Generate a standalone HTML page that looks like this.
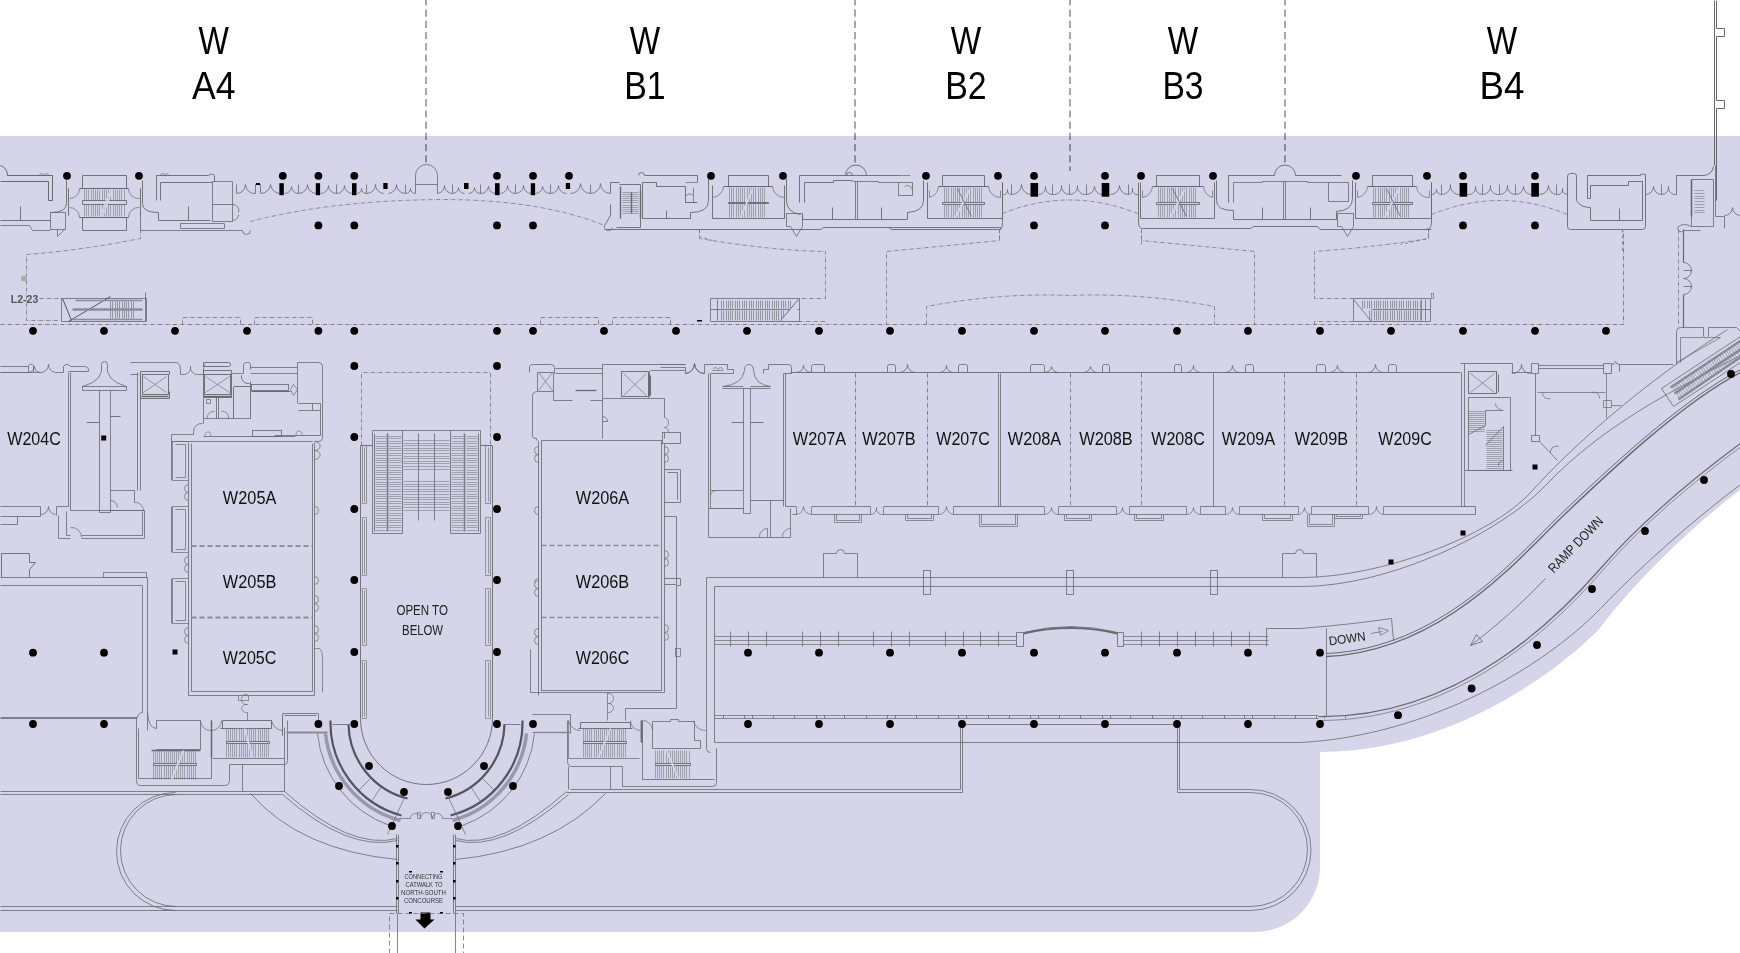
<!DOCTYPE html>
<html><head><meta charset="utf-8"><style>html,body{margin:0;padding:0;background:#fff;overflow:hidden}</style></head>
<body>
<svg width="1740" height="953" viewBox="0 0 1740 953" style="display:block;will-change:transform">
<rect width="1740" height="953" fill="#fff"/>
<path d="M0,136 H1740 V490 C1700,520 1640,575 1600,628 C1570,660 1460,752 1320,752 V867 A65,65 0 0 1 1255,932 H0 Z" fill="#d6d4e9"/>
<g stroke-linecap="butt" stroke-linejoin="miter" transform="translate(0.5,0.5)">
<path d="M1714,0 V165" stroke="#68686f" stroke-width="1.0" fill="none" />
<path d="M1716,0 V28 H1724 V36 H1716 V100 H1724 V108 H1716 V200" stroke="#68686f" stroke-width="1.0" fill="none" />
<path d="M0,165 A10,10 0 0 1 7,175" stroke="#68686f" stroke-width="1.0" fill="none" />
<path d="M7,175 H52 V200 H48 V181 H0" stroke="#68686f" stroke-width="1.0" fill="none" />
<path d="M39,175 a2,2 0 1 1 4,0 M44,175 a2,2 0 1 1 4,0" stroke="#68686f" stroke-width="0.6" fill="none" />
<path d="M0,220 H50 M20,206 V220" stroke="#68686f" stroke-width="0.9" fill="none" />
<path d="M0,225 H29 L32,230 H50 M50,212 H65 V229 H50 Z" stroke="#68686f" stroke-width="0.8" fill="none" />
<path d="M57,229 V236 L64,229" stroke="#68686f" stroke-width="0.8" fill="none" />
<path d="M66,180 V203 Q66,212 50,212" stroke="#68686f" stroke-width="0.9" fill="none" />
<path d="M68,188 V215 M68,188 V215" stroke="#68686f" stroke-width="0.7" fill="none" />
<path d="M82,188 V175 H126 V188 M82,217 V230 H126 V217" stroke="#68686f" stroke-width="0.9" fill="none" />
<path d="M79,188 H128 M79,217 H128" stroke="#68686f" stroke-width="1.1" fill="none" />
<path d="M79,188 A10,10 0 0 1 69,198 M79,217 A10,10 0 0 0 69,207" stroke="#68686f" stroke-width="0.7" fill="none" />
<path d="M128,188 A10,10 0 0 0 139,198 M128,217 A10,10 0 0 1 139,207" stroke="#68686f" stroke-width="0.7" fill="none" />
<path d="M84,189 V216 M86,189 V216 M88,189 V216 M91,189 V216 M93,189 V216 M95,189 V216 M97,189 V216 M99,189 V216 M102,189 V216 M104,189 V216 M106,189 V216 M108,189 V216 M110,189 V216 M113,189 V216 M115,189 V216 M117,189 V216 M119,189 V216 M121,189 V216 M124,189 V216 " stroke="#68686f" stroke-width="0.5" fill="none" />
<path d="M82,200 H126 V204 H82 Z" stroke="#68686f" stroke-width="0.9" fill="#d6d4e9" />
<path d="M100,216 L110,189 M102,216 L112,189" stroke="#d6d4e9" stroke-width="1.5" fill="none" />
<path d="M142,180 V203 Q142,212 158,212" stroke="#68686f" stroke-width="0.9" fill="none" />
<path d="M140,188 V215 M140,188 V215" stroke="#68686f" stroke-width="0.7" fill="none" />
<path d="M140,212 V230" stroke="#68686f" stroke-width="0.8" fill="none" />
<path d="M156,200 V175 H208 A4,4 0 0 1 214,175 V181" stroke="#68686f" stroke-width="0.9" fill="none" />
<path d="M160,200 V182 H212" stroke="#68686f" stroke-width="0.9" fill="none" />
<path d="M160,175 a2,2 0 1 1 4,0 M164,175 a2,2 0 1 1 4,0" stroke="#68686f" stroke-width="0.6" fill="none" />
<path d="M158,212 V220 H210 M188,206 V220" stroke="#68686f" stroke-width="0.9" fill="none" />
<path d="M212,181 H232 V221 H212 Z M212,204 H232 M232,204 A6,6 0 0 1 238,212 M232,220 A6,6 0 0 0 238,214" stroke="#68686f" stroke-width="0.8" fill="none" />
<path d="M180,223 H224 V228 H180 Z" stroke="#68686f" stroke-width="0.8" fill="none" />
<path d="M140,230 H242 a4,4 0 1 0 8,0" stroke="#68686f" stroke-width="0.8" fill="none" />
<path d="M236,184 V193" stroke="#68686f" stroke-width="0.8" fill="none" />
<path d="M236,193 A9,9 0 0 0 245,184 A9,9 0 0 0 255,193" stroke="#68686f" stroke-width="0.8" fill="none" />
<path d="M260,193 A10,10 0 0 0 270,184 A10,10 0 0 0 279,193" stroke="#68686f" stroke-width="0.8" fill="none" />
<path d="M284,193 A7,7 0 0 0 291,186 A7,7 0 0 0 298,193" stroke="#68686f" stroke-width="0.8" fill="none" />
<path d="M298,193 A9,9 0 0 0 307,184 A9,9 0 0 0 316,193" stroke="#68686f" stroke-width="0.8" fill="none" />
<path d="M320,193 A8,8 0 0 0 328,185 A8,8 0 0 0 336,193" stroke="#68686f" stroke-width="0.8" fill="none" />
<path d="M336,193 A8,8 0 0 0 344,185 A8,8 0 0 0 352,193" stroke="#68686f" stroke-width="0.8" fill="none" />
<path d="M357,193 A5,5 0 0 0 361,188 A5,5 0 0 0 366,193" stroke="#68686f" stroke-width="0.8" fill="none" />
<path d="M366,193 A9,9 0 0 0 375,184 A9,9 0 0 0 383,193" stroke="#68686f" stroke-width="0.8" fill="none" />
<path d="M388,193 A9,9 0 0 0 396,184 A9,9 0 0 0 405,193" stroke="#68686f" stroke-width="0.8" fill="none" />
<path d="M405,193 A5,5 0 0 0 410,188 A5,5 0 0 0 415,193" stroke="#68686f" stroke-width="0.8" fill="none" />
<path d="M255,184 V193" stroke="#68686f" stroke-width="0.8" fill="none" />
<path d="M260,184 V193" stroke="#68686f" stroke-width="0.8" fill="none" />
<path d="M298,184 V193" stroke="#68686f" stroke-width="0.8" fill="none" />
<path d="M336,184 V193" stroke="#68686f" stroke-width="0.8" fill="none" />
<path d="M366,184 V193" stroke="#68686f" stroke-width="0.8" fill="none" />
<path d="M405,184 V193" stroke="#68686f" stroke-width="0.8" fill="none" />
<path d="M255,184 H260" stroke="#68686f" stroke-width="1.0" fill="none" />
<path d="M415,193 V175 A11,11 0 0 1 437,175 V193 M415,184 H437" stroke="#68686f" stroke-width="0.8" fill="none" />
<path d="M437,193 A8,8 0 0 0 444,185 A8,8 0 0 0 452,193" stroke="#68686f" stroke-width="0.8" fill="none" />
<path d="M452,193 A6,6 0 0 0 458,187 A6,6 0 0 0 464,193" stroke="#68686f" stroke-width="0.8" fill="none" />
<path d="M468,193 A6,6 0 0 0 474,187 A6,6 0 0 0 480,193" stroke="#68686f" stroke-width="0.8" fill="none" />
<path d="M480,193 A8,8 0 0 0 488,186 A8,8 0 0 0 495,193" stroke="#68686f" stroke-width="0.8" fill="none" />
<path d="M500,193 A8,8 0 0 0 507,185 A8,8 0 0 0 515,193" stroke="#68686f" stroke-width="0.8" fill="none" />
<path d="M515,193 A8,8 0 0 0 523,185 A8,8 0 0 0 531,193" stroke="#68686f" stroke-width="0.8" fill="none" />
<path d="M535,193 A8,8 0 0 0 542,186 A8,8 0 0 0 550,193" stroke="#68686f" stroke-width="0.8" fill="none" />
<path d="M550,193 A8,8 0 0 0 558,185 A8,8 0 0 0 566,193" stroke="#68686f" stroke-width="0.8" fill="none" />
<path d="M570,193 A10,10 0 0 0 580,183 A10,10 0 0 0 590,193" stroke="#68686f" stroke-width="0.8" fill="none" />
<path d="M590,193 A10,10 0 0 0 600,183 A10,10 0 0 0 610,193" stroke="#68686f" stroke-width="0.8" fill="none" />
<path d="M452,184 V193" stroke="#68686f" stroke-width="0.8" fill="none" />
<path d="M480,184 V193" stroke="#68686f" stroke-width="0.8" fill="none" />
<path d="M515,184 V193" stroke="#68686f" stroke-width="0.8" fill="none" />
<path d="M550,184 V193" stroke="#68686f" stroke-width="0.8" fill="none" />
<path d="M590,184 V193" stroke="#68686f" stroke-width="0.8" fill="none" />
<path d="M610,193 V182 H619 M610,204 V215 Q606,222 604,225 M619,184 H640 V227 H616 " stroke="#68686f" stroke-width="0.9" fill="none" />
<path d="M604,225 a4,4 0 1 0 8,2" stroke="#68686f" stroke-width="0.7" fill="none" />
<path d="M620,186 V218 M640,190 V218" stroke="#68686f" stroke-width="1.4" fill="none" />
<path d="M631,192 V213" stroke="#68686f" stroke-width="1.4" fill="none" />
<path d="M622,192 H638 M622,194 H638 M622,196 H638 M622,198 H638 M622,200 H638 M622,202 H638 M622,205 H638 M622,207 H638 M622,209 H638 M622,211 H638 M622,213 H638 " stroke="#68686f" stroke-width="0.5" fill="none" />
<path d="M638,175 a3,3 0 0 1 6,0 H697 V182" stroke="#68686f" stroke-width="0.9" fill="none" />
<path d="M642,218 V182 H656 V186 H685 V202 H697 M642,218 H690 V212" stroke="#68686f" stroke-width="0.9" fill="none" />
<path d="M666,210 V218" stroke="#68686f" stroke-width="0.9" fill="none" />
<path d="M685,182 H697 M685,196 a5,5 0 0 1 8,-1 M685,202 h10 M693,187 V202" stroke="#68686f" stroke-width="0.7" fill="none" />
<path d="M690,212 Q708,212 708,200 V178" stroke="#68686f" stroke-width="0.9" fill="none" />
<path d="M728,186 V175 H768 V186" stroke="#68686f" stroke-width="0.9" fill="none" />
<path d="M723,186 H772" stroke="#68686f" stroke-width="1.1" fill="none" />
<path d="M723,186 A12,12 0 0 1 712,197 M772,186 A12,12 0 0 0 784,197" stroke="#68686f" stroke-width="0.7" fill="none" />
<path d="M712,185 V218 H784 V185" stroke="#68686f" stroke-width="0.9" fill="none" />
<path d="M729,187 V217 M731,187 V217 M733,187 V217 M736,187 V217 M738,187 V217 M740,187 V217 M742,187 V217 M744,187 V217 M747,187 V217 M749,187 V217 M751,187 V217 M753,187 V217 M755,187 V217 M758,187 V217 M760,187 V217 M762,187 V217 M764,187 V217 " stroke="#68686f" stroke-width="0.5" fill="none" />
<path d="M728,202 H768 V203 H728 Z" stroke="#68686f" stroke-width="0.9" fill="#d6d4e9" />
<path d="M740,217 L752,189" stroke="#d6d4e9" stroke-width="1.8" fill="none" />
<path d="M786,178 V200 Q786,212 800,214" stroke="#68686f" stroke-width="0.9" fill="none" />
<path d="M786,213 H802 V226 L796,236 L790,226 H786 Z" stroke="#68686f" stroke-width="0.8" fill="none" />
<path d="M604,229 H820 L823,227 H1000" stroke="#68686f" stroke-width="0.9" fill="none" />
<path d="M799,202 V175 H846 a3,3 0 0 1 6,0" stroke="#68686f" stroke-width="0.9" fill="none" />
<path d="M804,202 V182 H833 V180 H852" stroke="#68686f" stroke-width="0.9" fill="none" />
<path d="M802,219 H852 M832,207 V219" stroke="#68686f" stroke-width="0.9" fill="none" />
<path d="M802,214 V219" stroke="#68686f" stroke-width="0.9" fill="none" />
<path d="M942,186 V175 H984 V186" stroke="#68686f" stroke-width="0.9" fill="none" />
<path d="M938,186 H988" stroke="#68686f" stroke-width="1.1" fill="none" />
<path d="M938,186 A12,12 0 0 1 929,197 M988,186 A12,12 0 0 0 1000,197" stroke="#68686f" stroke-width="0.7" fill="none" />
<path d="M927,182 V218 H1002 V182" stroke="#68686f" stroke-width="0.9" fill="none" />
<path d="M929,190 V197 M1000,190 V197" stroke="#68686f" stroke-width="0.7" fill="none" />
<path d="M944,187 V217 M946,187 V217 M948,187 V217 M951,187 V217 M953,187 V217 M955,187 V217 M957,187 V217 M959,187 V217 M962,187 V217 M964,187 V217 M966,187 V217 M968,187 V217 M970,187 V217 M973,187 V217 M975,187 V217 M977,187 V217 M979,187 V217 M981,187 V217 " stroke="#68686f" stroke-width="0.5" fill="none" />
<path d="M942,202 H984 V204 H942 Z" stroke="#68686f" stroke-width="0.9" fill="#d6d4e9" />
<path d="M955,217 L969,189" stroke="#d6d4e9" stroke-width="1.8" fill="none" />
<path d="M957,188 L971,216" stroke="#68686f" stroke-width="0.8" fill="none" />
<path d="M1156,186 V175 H1199 V186" stroke="#68686f" stroke-width="0.9" fill="none" />
<path d="M1152,186 H1203" stroke="#68686f" stroke-width="1.1" fill="none" />
<path d="M1152,186 A12,12 0 0 1 1142,197 M1203,186 A12,12 0 0 0 1212,197" stroke="#68686f" stroke-width="0.7" fill="none" />
<path d="M1140,182 V218 H1214 V182" stroke="#68686f" stroke-width="0.9" fill="none" />
<path d="M1142,190 V197 M1212,190 V197" stroke="#68686f" stroke-width="0.7" fill="none" />
<path d="M1158,187 V217 M1160,187 V217 M1162,187 V217 M1164,187 V217 M1167,187 V217 M1169,187 V217 M1171,187 V217 M1173,187 V217 M1175,187 V217 M1178,187 V217 M1180,187 V217 M1182,187 V217 M1184,187 V217 M1186,187 V217 M1189,187 V217 M1191,187 V217 M1193,187 V217 M1195,187 V217 " stroke="#68686f" stroke-width="0.5" fill="none" />
<path d="M1156,202 H1199 V204 H1156 Z" stroke="#68686f" stroke-width="0.9" fill="#d6d4e9" />
<path d="M1170,217 L1184,189" stroke="#d6d4e9" stroke-width="1.8" fill="none" />
<path d="M1172,188 L1186,216" stroke="#68686f" stroke-width="0.8" fill="none" />
<path d="M1372,186 V175 H1412 V186" stroke="#68686f" stroke-width="0.9" fill="none" />
<path d="M1367,186 H1416" stroke="#68686f" stroke-width="1.1" fill="none" />
<path d="M1367,186 A12,12 0 0 1 1357,197 M1416,186 A12,12 0 0 0 1429,197" stroke="#68686f" stroke-width="0.7" fill="none" />
<path d="M1355,182 V218 H1431 V182" stroke="#68686f" stroke-width="0.9" fill="none" />
<path d="M1357,190 V197 M1429,190 V197" stroke="#68686f" stroke-width="0.7" fill="none" />
<path d="M1373,187 V217 M1375,187 V217 M1378,187 V217 M1380,187 V217 M1382,187 V217 M1384,187 V217 M1386,187 V217 M1389,187 V217 M1391,187 V217 M1393,187 V217 M1395,187 V217 M1397,187 V217 M1400,187 V217 M1402,187 V217 M1404,187 V217 M1406,187 V217 M1408,187 V217 " stroke="#68686f" stroke-width="0.5" fill="none" />
<path d="M1372,202 H1412 V204 H1372 Z" stroke="#68686f" stroke-width="0.9" fill="#d6d4e9" />
<path d="M1384,217 L1398,189" stroke="#d6d4e9" stroke-width="1.8" fill="none" />
<path d="M1386,188 L1400,216" stroke="#68686f" stroke-width="0.8" fill="none" />
<path d="M845,175 A10,10 0 0 1 866,175 M845,175 H900" stroke="#68686f" stroke-width="0.9" fill="none" />
<path d="M852,181 H878 V182 H898 V195 H912 V182 H898 M855,181 V219 M857,181 V219" stroke="#68686f" stroke-width="0.8" fill="none" />
<path d="M900,175 h10 M904,186 a5,5 0 0 1 8,4" stroke="#68686f" stroke-width="0.7" fill="none" />
<path d="M852,219 H907 V212 Q923,211 923,200 V180 M881,207 V219" stroke="#68686f" stroke-width="0.9" fill="none" />
<path d="M1000,227 V229 M888,227 L891,229 H999 Q1002,229 1002,222 V182" stroke="#68686f" stroke-width="0.9" fill="none" />
<path d="M1002,194 A4,4 0 0 0 1007,189 A4,4 0 0 0 1011,194" stroke="#68686f" stroke-width="0.8" fill="none" />
<path d="M1011,194 A10,10 0 0 0 1021,184 A10,10 0 0 0 1030,194" stroke="#68686f" stroke-width="0.8" fill="none" />
<path d="M1038,194 A7,7 0 0 0 1045,186 A7,7 0 0 0 1052,194" stroke="#68686f" stroke-width="0.8" fill="none" />
<path d="M1052,194 A8,8 0 0 0 1061,185 A8,8 0 0 0 1069,194" stroke="#68686f" stroke-width="0.8" fill="none" />
<path d="M1069,194 A8,8 0 0 0 1077,185 A8,8 0 0 0 1086,194" stroke="#68686f" stroke-width="0.8" fill="none" />
<path d="M1086,194 A8,8 0 0 0 1094,186 A8,8 0 0 0 1102,194" stroke="#68686f" stroke-width="0.8" fill="none" />
<path d="M1110,194 A9,9 0 0 0 1119,185 A9,9 0 0 0 1128,194" stroke="#68686f" stroke-width="0.8" fill="none" />
<path d="M1128,194 A5,5 0 0 0 1132,188 A5,5 0 0 0 1138,194" stroke="#68686f" stroke-width="0.8" fill="none" />
<path d="M1011,184 V194" stroke="#68686f" stroke-width="0.8" fill="none" />
<path d="M1052,184 V194" stroke="#68686f" stroke-width="0.8" fill="none" />
<path d="M1069,184 V194" stroke="#68686f" stroke-width="0.8" fill="none" />
<path d="M1086,184 V194" stroke="#68686f" stroke-width="0.8" fill="none" />
<path d="M1128,184 V194" stroke="#68686f" stroke-width="0.8" fill="none" />
<path d="M1138,182 V222 Q1138,228 1142,228 H1250 L1253,226 H1317 L1320,229 H1431" stroke="#68686f" stroke-width="0.9" fill="none" />
<path d="M1216,180 V200 Q1216,210 1233,210 V219" stroke="#68686f" stroke-width="0.9" fill="none" />
<path d="M1228,202 V175 H1274 A10,10 0 0 1 1295,175 H1341" stroke="#68686f" stroke-width="0.9" fill="none" />
<path d="M1233,202 V182 H1262 V181 H1307 V182 H1328 V201 H1348 V182 H1328" stroke="#68686f" stroke-width="0.8" fill="none" />
<path d="M1283,181 V219 M1285,181 V219" stroke="#68686f" stroke-width="0.8" fill="none" />
<path d="M1233,219 H1336 V211 Q1352,210 1352,198 V180 M1262,207 V219 M1310,207 V219" stroke="#68686f" stroke-width="0.9" fill="none" />
<path d="M1337,213 H1353 V226 L1347,236 L1341,226 H1337 Z" stroke="#68686f" stroke-width="0.8" fill="none" />
<path d="M1431,194 A5,5 0 0 0 1436,189 A5,5 0 0 0 1441,194" stroke="#68686f" stroke-width="0.8" fill="none" />
<path d="M1441,194 A9,9 0 0 0 1450,184 A9,9 0 0 0 1460,194" stroke="#68686f" stroke-width="0.8" fill="none" />
<path d="M1467,194 A7,7 0 0 0 1475,186 A7,7 0 0 0 1482,194" stroke="#68686f" stroke-width="0.8" fill="none" />
<path d="M1482,194 A8,8 0 0 0 1490,185 A8,8 0 0 0 1499,194" stroke="#68686f" stroke-width="0.8" fill="none" />
<path d="M1499,194 A8,8 0 0 0 1507,185 A8,8 0 0 0 1515,194" stroke="#68686f" stroke-width="0.8" fill="none" />
<path d="M1515,194 A8,8 0 0 0 1523,186 A8,8 0 0 0 1531,194" stroke="#68686f" stroke-width="0.8" fill="none" />
<path d="M1539,194 A9,9 0 0 0 1548,185 A9,9 0 0 0 1556,194" stroke="#68686f" stroke-width="0.8" fill="none" />
<path d="M1556,194 A5,5 0 0 0 1562,188 A5,5 0 0 0 1567,194" stroke="#68686f" stroke-width="0.8" fill="none" />
<path d="M1441,184 V194" stroke="#68686f" stroke-width="0.8" fill="none" />
<path d="M1482,184 V194" stroke="#68686f" stroke-width="0.8" fill="none" />
<path d="M1499,184 V194" stroke="#68686f" stroke-width="0.8" fill="none" />
<path d="M1515,184 V194" stroke="#68686f" stroke-width="0.8" fill="none" />
<path d="M1556,184 V194" stroke="#68686f" stroke-width="0.8" fill="none" />
<path d="M1431,182 V222 Q1431,229 1425,229" stroke="#68686f" stroke-width="0.9" fill="none" />
<path d="M1570,173 H1574 Q1576,173 1576,176 V200 Q1580,207 1590,207 V220 H1642 V181 H1628 V185 H1590 V198 H1587 V175 H1640 V174 Q1642,173 1645,174 V226 Q1645,229 1642,229 H1570 Q1567,229 1567,226 V176 Q1567,173 1570,173" stroke="#68686f" stroke-width="0.9" fill="none" />
<path d="M1619,208 V220" stroke="#68686f" stroke-width="0.9" fill="none" />
<path d="M1645,194 A8,8 0 0 0 1653,186 A8,8 0 0 0 1661,194" stroke="#68686f" stroke-width="0.8" fill="none" />
<path d="M1661,194 A7,7 0 0 0 1668,186 A7,7 0 0 0 1676,194" stroke="#68686f" stroke-width="0.8" fill="none" />
<path d="M1661,184 V194" stroke="#68686f" stroke-width="0.8" fill="none" />
<path d="M1676,194 V175 H1703 A10,10 0 0 0 1713,166" stroke="#68686f" stroke-width="0.9" fill="none" />
<path d="M1691,179 H1713 V226 H1691 Z" stroke="#68686f" stroke-width="0.8" fill="none" />
<path d="M1691,179 V216" stroke="#68686f" stroke-width="1.6" fill="none" />
<path d="M1694,190 H1704 M1694,193 H1704 M1694,196 H1704 M1694,198 H1704 M1694,201 H1704 M1694,204 H1704 M1694,207 H1704 M1694,210 H1704 M1694,212 H1704 " stroke="#68686f" stroke-width="0.5" fill="none" />
<path d="M1715,165 V216 H1724 V228 M1691,226 Q1683,222 1678,226 a3,3 0 1 0 5,4 H1700" stroke="#68686f" stroke-width="0.8" fill="none" />
<path d="M1724,215 A8,8 0 0 0 1732,207 A8,8 0 0 0 1740,215" stroke="#68686f" stroke-width="0.8" fill="none" />
<path d="M61,298 H146 V321 H61 Z M145,292 V321" stroke="#68686f" stroke-width="0.8" fill="none" />
<path d="M68,321 L110,296 M62,298 L71,320" stroke="#333" stroke-width="0.8" fill="none" />
<path d="M75,300 H142 M72,319 H142" stroke="#8e8a9e" stroke-width="1.6" fill="none" />
<path d="M72,309 H142" stroke="#8e8a9e" stroke-width="2.6" fill="none" />
<path d="M110,301 V308 M112,301 V308 M115,301 V308 M117,301 V308 M119,301 V308 M122,301 V308 M124,301 V308 M126,301 V308 M128,301 V308 M131,301 V308 M133,301 V308 " stroke="#68686f" stroke-width="0.6" fill="none" />
<path d="M110,310 V318 M112,310 V318 M115,310 V318 M117,310 V318 M119,310 V318 M122,310 V318 M124,310 V318 M126,310 V318 M128,310 V318 M131,310 V318 M133,310 V318 " stroke="#68686f" stroke-width="0.6" fill="none" />
<path d="M710,298 H799 V321 H710 Z M710,309 H799" stroke="#68686f" stroke-width="0.8" fill="none" />
<path d="M717,299 V320" stroke="#68686f" stroke-width="0.8" fill="none" />
<path d="M721,300 V308 M723,300 V308 M726,300 V308 M728,300 V308 M730,300 V308 M732,300 V308 M735,300 V308 M737,300 V308 M739,300 V308 M742,300 V308 M744,300 V308 M746,300 V308 M749,300 V308 M751,300 V308 M753,300 V308 M756,300 V308 M758,300 V308 M760,300 V308 M762,300 V308 M765,300 V308 M767,300 V308 M769,300 V308 M772,300 V308 M774,300 V308 M776,300 V308 M778,300 V308 M781,300 V308 M783,300 V308 M785,300 V308 M788,300 V308 M790,300 V308 " stroke="#68686f" stroke-width="0.6" fill="none" />
<path d="M721,310 V320 M723,310 V320 M726,310 V320 M728,310 V320 M730,310 V320 M732,310 V320 M735,310 V320 M737,310 V320 M739,310 V320 M742,310 V320 M744,310 V320 M746,310 V320 M749,310 V320 M751,310 V320 M753,310 V320 M756,310 V320 M758,310 V320 M760,310 V320 M762,310 V320 M765,310 V320 M767,310 V320 M769,310 V320 M772,310 V320 M774,310 V320 M776,310 V320 M778,310 V320 M781,310 V320 M783,310 V320 " stroke="#68686f" stroke-width="0.6" fill="none" />
<path d="M780,320 L798,299" stroke="#68686f" stroke-width="0.8" fill="none" />
<path d="M797,300 L780,320 H797 Z" stroke="#68686f" stroke-width="0" fill="#d6d4e9" />
<path d="M780,320 L798,299" stroke="#68686f" stroke-width="0.8" fill="none" />
<path d="M1353,298 H1430 V321 H1353 Z M1371,309 H1430" stroke="#68686f" stroke-width="0.8" fill="none" />
<path d="M1362,300 V308 M1364,300 V308 M1367,300 V308 M1369,300 V308 M1371,300 V308 M1374,300 V308 M1376,300 V308 M1378,300 V308 M1380,300 V308 M1383,300 V308 M1385,300 V308 M1387,300 V308 M1390,300 V308 M1392,300 V308 M1394,300 V308 M1396,300 V308 M1399,300 V308 M1401,300 V308 M1403,300 V308 M1406,300 V308 M1408,300 V308 M1410,300 V308 M1413,300 V308 M1415,300 V308 M1417,300 V308 M1420,300 V308 " stroke="#68686f" stroke-width="0.6" fill="none" />
<path d="M1369,310 V320 M1371,310 V320 M1374,310 V320 M1376,310 V320 M1378,310 V320 M1380,310 V320 M1383,310 V320 M1385,310 V320 M1387,310 V320 M1390,310 V320 M1392,310 V320 M1394,310 V320 M1397,310 V320 M1399,310 V320 M1401,310 V320 M1404,310 V320 M1406,310 V320 M1408,310 V320 M1410,310 V320 M1413,310 V320 M1415,310 V320 M1417,310 V320 M1420,310 V320 " stroke="#68686f" stroke-width="0.6" fill="none" />
<path d="M1353,299 L1371,321" stroke="#68686f" stroke-width="0.8" fill="none" />
<path d="M1421,299 V320 M1425,299 V320" stroke="#68686f" stroke-width="0.7" fill="none" />
<rect x="1431" y="293" width="2" height="5" stroke="#68686f" stroke-width="0.6" fill="none"/>
<path d="M1683,229 V262 M1683,294 V327" stroke="#68686f" stroke-width="1.2" fill="none" />
<path d="M1683,262 A8,8 0 0 1 1691,270 A8,8 0 0 1 1683,278 A8,8 0 0 1 1691,286 A8,8 0 0 1 1683,294" stroke="#68686f" stroke-width="0.8" fill="none" />
<path d="M1683,270 H1692 M1683,286 H1692" stroke="#68686f" stroke-width="0.8" fill="none" />
<path d="M0,372 H40 M0,366 H28" stroke="#68686f" stroke-width="0.8" fill="none" />
<path d="M28,372 A6,6 0 0 0 34,366 A6,6 0 0 0 40,372" stroke="#68686f" stroke-width="0.8" fill="none" />
<path d="M40,372 A8,8 0 0 0 48,364 A8,8 0 0 0 55,372" stroke="#68686f" stroke-width="0.8" fill="none" />
<path d="M55,372 H88 V366 H28" stroke="#68686f" stroke-width="0" fill="none" />
<path d="M55,372 H63 M63,372 V366 A4,4 0 0 1 70,366 H83 A4,4 0 0 1 88,371 H68" stroke="#68686f" stroke-width="0.8" fill="none" />
<path d="M0,372 H28 M28,372 V365 A3,3 0 0 1 33,365 V372" stroke="#68686f" stroke-width="0.8" fill="none" />
<path d="M68,372 V506 H56 V515 M70,372 V510 H144 V538 H81 M58,515 V538 H70" stroke="#68686f" stroke-width="0.8" fill="none" />
<path d="M137,372 V490 M140,372 V490" stroke="#68686f" stroke-width="0.8" fill="none" />
<path d="M99,390 V512 H110 V390 M82,386 H126 V390 H82 Z" stroke="#68686f" stroke-width="0.8" fill="none" />
<path d="M82,386 Q104,380 101,364 M126,386 Q104,380 107,364 M101,364 A3,3 0 0 1 107,364" stroke="#68686f" stroke-width="0.8" fill="none" />
<path d="M86,422 H99 M110,416 H120" stroke="#68686f" stroke-width="0.9" fill="none" />
<path d="M110,490 H134 V502 M110,510 H143 M110,500 a7,7 0 0 1 7,7" stroke="#68686f" stroke-width="0.8" fill="none" />
<path d="M134,502 A8,8 0 0 1 143,510" stroke="#68686f" stroke-width="0.7" fill="none" />
<path d="M130,374 H138" stroke="#68686f" stroke-width="0.8" fill="none" />
<path d="M140,398 V371 H169 V374 M169,391 V398 H140" stroke="#68686f" stroke-width="0.9" fill="none" />
<rect x="142" y="374" width="26" height="20" stroke="#68686f" stroke-width="0.9" fill="none"/>
<path d="M143,376 L166,392 M166,376 L143,392" stroke="#68686f" stroke-width="0.6" fill="none" />
<path d="M141,396 H168" stroke="#68686f" stroke-width="1.4" fill="none" />
<path d="M130,362 H176 Q180,363 180,369 V374 H182" stroke="#68686f" stroke-width="0.8" fill="none" />
<path d="M182,374 A7,7 0 0 0 190,366 A7,7 0 0 0 197,374" stroke="#68686f" stroke-width="0.8" fill="none" />
<path d="M197,374 H203 V367 Q203,364 205,364" stroke="#68686f" stroke-width="0.8" fill="none" />
<path d="M203,362 H228 Q230,362 230,364 Q230,366 228,366 H203 Z" stroke="#68686f" stroke-width="0.9" fill="none" />
<path d="M203,397 V370 H231 V397 H203" stroke="#68686f" stroke-width="0.9" fill="none" />
<rect x="204" y="374" width="26" height="20" stroke="#68686f" stroke-width="0.9" fill="none"/>
<path d="M205,376 L229,392 M229,376 L205,392" stroke="#68686f" stroke-width="0.6" fill="none" />
<path d="M203,396 H231" stroke="#68686f" stroke-width="1.4" fill="none" />
<path d="M231,373 H243 V364 Q243,362 247,362 Q250,362 250,364 V369 M250,367 H297 M250,373 H297" stroke="#68686f" stroke-width="0.8" fill="none" />
<path d="M233,387 V418 M250,381 V418 M233,386 H250 M241,375 a7,7 0 0 0 8,8" stroke="#68686f" stroke-width="0.9" fill="none" />
<path d="M203,397 V423 M203,418 H250 M216,397 V418 M218,397 V418" stroke="#68686f" stroke-width="0.8" fill="none" />
<path d="M207,418 a6,6 0 0 1 7,-7 M228,418 a6,6 0 0 0 -7,-7 M206,399 h4 v4 h-4 z" stroke="#68686f" stroke-width="0.7" fill="none" />
<path d="M202,423 A8,8 0 0 0 193,431 V434 H171 V480 M171,506 V552 M171,578 V623" stroke="#68686f" stroke-width="0.8" fill="none" />
<rect x="251" y="384" width="37" height="6" stroke="#68686f" stroke-width="0.8" fill="none"/>
<path d="M251,391 H290" stroke="#68686f" stroke-width="1.2" fill="none" />
<path d="M290,389 L293,384 L297,389 L293,395 Z" stroke="#68686f" stroke-width="0.7" fill="none" />
<path d="M297,362 H318 Q322,362 322,366 V437 Q322,441 318,441 H314" stroke="#68686f" stroke-width="0.8" fill="none" />
<path d="M297,362 V403 M298,403 H320 V435 H274 M298,410 H320 M312,403 V410" stroke="#68686f" stroke-width="0.8" fill="none" />
<path d="M203,436 H295" stroke="#68686f" stroke-width="0.8" fill="none" />
<rect x="252" y="430" width="29" height="6" stroke="#68686f" stroke-width="0.8" fill="none"/>
<path d="M205,436 a3,3 0 1 1 5,0 M296,435 a3,3 0 1 1 5,0" stroke="#68686f" stroke-width="0.6" fill="none" />
<path d="M171,441 H312" stroke="#68686f" stroke-width="0.8" fill="none" />
<path d="M188,442 V695 H314 V442 M191,443 V691 H312 V443" stroke="#68686f" stroke-width="0.8" fill="none" />
<path d="M188,484 A4,4 0 0 0 188,492 A4,4 0 0 0 188,500" stroke="#68686f" stroke-width="0.7" fill="none" />
<path d="M188,556 A4,4 0 0 0 188,564 A4,4 0 0 0 188,572" stroke="#68686f" stroke-width="0.7" fill="none" />
<path d="M188,627 A4,4 0 0 0 188,635 A4,4 0 0 0 188,643" stroke="#68686f" stroke-width="0.7" fill="none" />
<path d="M188,441 H172 V480 H188 M175,444 H185 V477 H175" stroke="#68686f" stroke-width="0.7" fill="none" />
<path d="M188,506 H172 V552 H188 M175,509 H185 V549 H175" stroke="#68686f" stroke-width="0.7" fill="none" />
<path d="M188,578 H172 V623 H188 M175,581 H185 V620 H175" stroke="#68686f" stroke-width="0.7" fill="none" />
<path d="M314,441 A5,4 0 0 1 314,450 A5,4 0 0 1 314,459" stroke="#68686f" stroke-width="0.7" fill="none" />
<path d="M314,595 A4,4 0 0 1 314,603 A4,4 0 0 1 314,611" stroke="#68686f" stroke-width="0.7" fill="none" />
<path d="M314,625 A4,4 0 0 1 314,633 A4,4 0 0 1 314,641" stroke="#68686f" stroke-width="0.7" fill="none" />
<path d="M314,506 a4,4 0 0 1 0,8 M314,576 a4,4 0 0 1 0,8" stroke="#68686f" stroke-width="0.7" fill="none" />
<path d="M314,648 H319 Q322,650 322,656 V692" stroke="#68686f" stroke-width="0.7" fill="none" />
<path d="M238,695 V700 H248 V695" stroke="#68686f" stroke-width="0.7" fill="none" />
<path d="M0,506 H40 V516 H0 M17,516 V524 H0" stroke="#68686f" stroke-width="0.8" fill="none" />
<path d="M40,514 A8,8 0 0 0 48,506 A8,8 0 0 0 55,514" stroke="#68686f" stroke-width="0.8" fill="none" />
<path d="M66,511 V535 H70 M81,535 H142 V511" stroke="#68686f" stroke-width="0.8" fill="none" />
<path d="M70,527 A10,10 0 0 1 81,537" stroke="#68686f" stroke-width="0.7" fill="none" />
<path d="M1,553 H29 V562 H35 L29,569 V577 M1,553 V577" stroke="#68686f" stroke-width="0.9" fill="none" />
<path d="M0,577 H147 V730 M0,585 H142 V712 a5,5 0 0 0 -5,5 H0 M0,718 H136" stroke="#68686f" stroke-width="0.8" fill="none" />
<rect x="103" y="572" width="43" height="5" stroke="#68686f" stroke-width="0.7" fill="none"/>
<path d="M136,717 V780 Q136,785 140,785 H224 Q229,785 229,780 V764 H284 Q287,764 287,760 V720" stroke="#68686f" stroke-width="0.8" fill="none" />
<path d="M138,728 V778 H211 V720 M212,758 H284 V727" stroke="#68686f" stroke-width="0.8" fill="none" />
<path d="M147,712 Q148,728 156,728 V720 H200 V749 H156" stroke="#68686f" stroke-width="0.8" fill="none" />
<path d="M151,750 H200" stroke="#68686f" stroke-width="1.3" fill="none" />
<path d="M153,750 V779 M155,750 V779 M157,750 V779 M159,750 V779 M161,750 V779 M164,750 V779 M166,750 V779 M168,750 V779 M170,750 V779 M172,750 V779 M174,750 V779 M176,750 V779 M178,750 V779 M180,750 V779 M182,750 V779 M184,750 V779 M187,750 V779 M189,750 V779 M191,750 V779 M193,750 V779 M195,750 V779 " stroke="#68686f" stroke-width="0.5" fill="none" />
<path d="M153,763 H196 V765 H153 Z" stroke="#68686f" stroke-width="0.9" fill="#d6d4e9" />
<path d="M171,779 L183,750" stroke="#d6d4e9" stroke-width="1.8" fill="none" />
<path d="M200,720 A10,10 0 0 0 210,730 A10,10 0 0 0 221,720" stroke="#68686f" stroke-width="0.7" fill="none" />
<path d="M211,720 V757" stroke="#68686f" stroke-width="1.5" fill="none" />
<path d="M222,728 V720 H271 V728 M220,728 H271" stroke="#68686f" stroke-width="0.9" fill="none" />
<path d="M226,728 V757 M228,728 V757 M230,728 V757 M232,728 V757 M234,728 V757 M236,728 V757 M239,728 V757 M241,728 V757 M243,728 V757 M245,728 V757 M247,728 V757 M249,728 V757 M251,728 V757 M253,728 V757 M255,728 V757 M258,728 V757 M260,728 V757 M262,728 V757 M264,728 V757 M266,728 V757 M268,728 V757 " stroke="#68686f" stroke-width="0.5" fill="none" />
<path d="M226,741 H269 V743 H226 Z" stroke="#68686f" stroke-width="0.9" fill="#d6d4e9" />
<path d="M244,728 L252,757" stroke="#d6d4e9" stroke-width="1.8" fill="none" />
<path d="M271,720 A12,12 0 0 0 282,730 M282,717 V735" stroke="#68686f" stroke-width="0.7" fill="none" />
<path d="M247,712 V720 M247,694 A5,5 0 0 0 241,700 A5,5 0 0 0 247,704 A5,5 0 0 0 241,708 A5,5 0 0 0 247,712" stroke="#68686f" stroke-width="0.7" fill="none" />
<path d="M282,735 V713 H318 V720 M284,715 H316" stroke="#68686f" stroke-width="0.8" fill="none" />
<path d="M286,732 H327" stroke="#8a8a94" stroke-width="1.8" fill="none" />
<path d="M242,764 V791 M284,757 V791" stroke="#68686f" stroke-width="0.8" fill="none" />
<path d="M0,791 H284 Q350,850 397,838 M0,794 H282 Q348,852 397,840" stroke="#68686f" stroke-width="0.8" fill="none" />
<path d="M250,793 Q300,850 397,859" stroke="#68686f" stroke-width="0.8" fill="none" />
<path d="M0,906 H397 M0,910 H397" stroke="#68686f" stroke-width="0.8" fill="none" />
<path d="M175,792 A59,59 0 0 0 175,910 M176,794 A56,56 0 0 0 176,906" stroke="#68686f" stroke-width="0.8" fill="none" />
<path d="M360,445 V718 M492,445 V718 M360,445 H372 M480,445 H492" stroke="#68686f" stroke-width="0.9" fill="none" />
<path d="M362,445 H366 V503 H362 Z M364,447 V501" stroke="#68686f" stroke-width="0.6" fill="none" />
<path d="M485,445 H490 V503 H485 Z M488,447 V501" stroke="#68686f" stroke-width="0.6" fill="none" />
<path d="M362,517 H366 V575 H362 Z M364,519 V573" stroke="#68686f" stroke-width="0.6" fill="none" />
<path d="M485,517 H490 V575 H485 Z M488,519 V573" stroke="#68686f" stroke-width="0.6" fill="none" />
<path d="M362,588 H366 V645 H362 Z M364,590 V643" stroke="#68686f" stroke-width="0.6" fill="none" />
<path d="M485,588 H490 V645 H485 Z M488,590 V643" stroke="#68686f" stroke-width="0.6" fill="none" />
<path d="M362,660 H366 V718 H362 Z M364,662 V716" stroke="#68686f" stroke-width="0.6" fill="none" />
<path d="M485,660 H490 V718 H485 Z M488,662 V716" stroke="#68686f" stroke-width="0.6" fill="none" />
<path d="M372,430 H480 M372,430 V533 H402 V430 M450,430 V533 H480 V430" stroke="#68686f" stroke-width="0.8" fill="none" />
<path d="M374,433 V531" stroke="#7a7a88" stroke-width="1.0" fill="none" />
<path d="M387,433 V531" stroke="#7a7a88" stroke-width="1.6" fill="none" />
<path d="M402,433 V531" stroke="#7a7a88" stroke-width="1.0" fill="none" />
<path d="M450,433 V531" stroke="#7a7a88" stroke-width="1.0" fill="none" />
<path d="M464,433 V531" stroke="#7a7a88" stroke-width="1.6" fill="none" />
<path d="M478,433 V531" stroke="#7a7a88" stroke-width="1.0" fill="none" />
<path d="M375,436 H386 M375,438 H386 M375,441 H386 M375,443 H386 M375,446 H386 M375,448 H386 M375,450 H386 M375,453 H386 M375,455 H386 M375,458 H386 M375,460 H386 M375,462 H386 M375,465 H386 M375,467 H386 M375,470 H386 M375,472 H386 M375,474 H386 M375,477 H386 M375,479 H386 M375,482 H386 M375,484 H386 M375,486 H386 M375,489 H386 M375,491 H386 M375,494 H386 M375,496 H386 M375,498 H386 M375,501 H386 M375,503 H386 M375,506 H386 M375,508 H386 M375,510 H386 M375,513 H386 M375,515 H386 M375,518 H386 M375,520 H386 M375,522 H386 M375,525 H386 M375,527 H386 M375,530 H386 " stroke="#68686f" stroke-width="0.5" fill="none" />
<path d="M388,436 H401 M388,438 H401 M388,441 H401 M388,443 H401 M388,446 H401 M388,448 H401 M388,450 H401 M388,453 H401 M388,455 H401 M388,458 H401 M388,460 H401 M388,462 H401 M388,465 H401 M388,467 H401 M388,470 H401 M388,472 H401 M388,474 H401 M388,477 H401 M388,479 H401 M388,482 H401 M388,484 H401 M388,486 H401 M388,489 H401 M388,491 H401 M388,494 H401 M388,496 H401 M388,498 H401 M388,501 H401 M388,503 H401 M388,506 H401 M388,508 H401 M388,510 H401 M388,513 H401 M388,515 H401 M388,518 H401 M388,520 H401 M388,522 H401 M388,525 H401 M388,527 H401 M388,530 H401 " stroke="#68686f" stroke-width="0.5" fill="none" />
<path d="M451,436 H463 M451,438 H463 M451,441 H463 M451,443 H463 M451,446 H463 M451,448 H463 M451,450 H463 M451,453 H463 M451,455 H463 M451,458 H463 M451,460 H463 M451,462 H463 M451,465 H463 M451,467 H463 M451,470 H463 M451,472 H463 M451,474 H463 M451,477 H463 M451,479 H463 M451,482 H463 M451,484 H463 M451,486 H463 M451,489 H463 M451,491 H463 M451,494 H463 M451,496 H463 M451,498 H463 M451,501 H463 M451,503 H463 M451,506 H463 M451,508 H463 M451,510 H463 M451,513 H463 M451,515 H463 M451,518 H463 M451,520 H463 M451,522 H463 M451,525 H463 M451,527 H463 M451,530 H463 " stroke="#68686f" stroke-width="0.5" fill="none" />
<path d="M466,436 H477 M466,438 H477 M466,441 H477 M466,443 H477 M466,446 H477 M466,448 H477 M466,450 H477 M466,453 H477 M466,455 H477 M466,458 H477 M466,460 H477 M466,462 H477 M466,465 H477 M466,467 H477 M466,470 H477 M466,472 H477 M466,474 H477 M466,477 H477 M466,479 H477 M466,482 H477 M466,484 H477 M466,486 H477 M466,489 H477 M466,491 H477 M466,494 H477 M466,496 H477 M466,498 H477 M466,501 H477 M466,503 H477 M466,506 H477 M466,508 H477 M466,510 H477 M466,513 H477 M466,515 H477 M466,518 H477 M466,520 H477 M466,522 H477 M466,525 H477 M466,527 H477 M466,530 H477 " stroke="#68686f" stroke-width="0.5" fill="none" />
<path d="M403,440 H449 M403,443 H449 M403,445 H449 M403,448 H449 M403,450 H449 M403,453 H449 M403,456 H449 M403,458 H449 M403,461 H449 M403,463 H449 M403,466 H449 M403,469 H449 " stroke="#68686f" stroke-width="0.5" fill="none" />
<path d="M403,481 H449 M403,484 H449 M403,486 H449 M403,489 H449 M403,491 H449 M403,494 H449 M403,497 H449 M403,499 H449 M403,502 H449 M403,504 H449 M403,507 H449 M403,510 H449 " stroke="#68686f" stroke-width="0.5" fill="none" />
<path d="M418,433 V520 M434,433 V520" stroke="#7a7a88" stroke-width="1.0" fill="none" />
<path d="M360,718 A66,66 0 0 0 492,718" stroke="#68686f" stroke-width="0.9" fill="none" />
<path d="M348,724 A78,78 0 0 0 407,798" stroke="#55555f" stroke-width="2.2" fill="none" />
<path d="M330,720 A96,96 0 0 0 401,815" stroke="#55555f" stroke-width="2.2" fill="none" />
<path d="M325,733 A101,101 0 0 0 400,820" stroke="#9a98ae" stroke-width="3.5" fill="none" />
<path d="M317,733 A109,109 0 0 0 389,825" stroke="#68686f" stroke-width="0.8" fill="none" />
<path d="M504,724 A78,78 0 0 1 445,798" stroke="#55555f" stroke-width="2.2" fill="none" />
<path d="M522,720 A96,96 0 0 1 450,815" stroke="#55555f" stroke-width="2.2" fill="none" />
<path d="M526,733 A101,101 0 0 1 452,820" stroke="#9a98ae" stroke-width="3.5" fill="none" />
<path d="M534,733 A109,109 0 0 1 462,825" stroke="#68686f" stroke-width="0.8" fill="none" />
<path d="M371,777 L358,790 M381,786 L371,801" stroke="#68686f" stroke-width="0.7" fill="none" />
<path d="M481,777 L494,790 M470,786 L480,801" stroke="#68686f" stroke-width="0.7" fill="none" />
<path d="M332,724 H349 M503,724 H520" stroke="#68686f" stroke-width="0.8" fill="none" />
<path d="M404,797 L387,834 M448,797 L465,834" stroke="#68686f" stroke-width="0.7" fill="none" />
<path d="M399,818 H410 A5,5 0 0 1 420,818 A5,5 0 0 1 432,818 A5,5 0 0 1 442,818 H452" stroke="#68686f" stroke-width="0.7" fill="none" />
<rect x="417" y="812" width="3" height="6" stroke="#68686f" stroke-width="0.6" fill="none"/>
<rect x="431" y="812" width="3" height="6" stroke="#68686f" stroke-width="0.6" fill="none"/>
<path d="M396,834 V913 M398,834 V913 M453,834 V913 M455,834 V913" stroke="#68686f" stroke-width="0.8" fill="none" />
<path d="M397,913 V953 M455,913 V953" stroke="#68686f" stroke-width="0.8" fill="none" />
<path d="M420,912 H430 V919 H434 L424,928 L415,919 H420 Z" stroke="#68686f" stroke-width="0" fill="#000" />
<path d="M566,791 Q500,850 455,838 M568,794 Q502,852 455,840" stroke="#68686f" stroke-width="0.8" fill="none" />
<path d="M605,793 Q550,850 455,859" stroke="#68686f" stroke-width="0.8" fill="none" />
<path d="M529,372 V366 Q529,364 533,364 H550 Q554,364 554,367 V373 M537,372 H553 V391 H537 Z" stroke="#68686f" stroke-width="0.8" fill="none" />
<path d="M538,372 L552,390 M552,372 L538,390" stroke="#68686f" stroke-width="0.6" fill="none" />
<path d="M555,368 H602 M555,373 H602 M602,364 V398 M602,364 H685 M650,370 H685" stroke="#68686f" stroke-width="0.8" fill="none" />
<rect x="621" y="371" width="28" height="25" stroke="#68686f" stroke-width="0.9" fill="none"/>
<path d="M623,373 L646,395 M646,373 L623,395" stroke="#68686f" stroke-width="0.6" fill="none" />
<path d="M648,372 V397 M650,375 V395" stroke="#68686f" stroke-width="1.0" fill="none" />
<path d="M685,373 A10,10 0 0 0 694,363 A10,10 0 0 0 704,373" stroke="#68686f" stroke-width="0.8" fill="none" />
<path d="M537,391 Q532,391 532,396 V436 Q532,438 536,438 V440 M553,391 V400 H572 M590,400 H602" stroke="#68686f" stroke-width="0.8" fill="none" />
<path d="M575,390 H596" stroke="#68686f" stroke-width="1.3" fill="none" />
<path d="M602,398 H664 V417 M664,432 V438 M602,398 V438 M602,416 a5,5 0 0 1 5,5 H602" stroke="#68686f" stroke-width="0.8" fill="none" />
<path d="M664,417 A5,5 0 0 1 668,422 A5,5 0 0 1 664,427 A5,5 0 0 1 668,432" stroke="#68686f" stroke-width="0.7" fill="none" />
<rect x="662" y="432" width="18" height="11" stroke="#68686f" stroke-width="0.8" fill="none"/>
<path d="M538,440 V695 M541,440 V690 H661 V440 H541 M664,443 V692 H530 V649" stroke="#68686f" stroke-width="0.8" fill="none" />
<path d="M538,446 A4,4 0 0 0 538,454 A4,4 0 0 0 538,462" stroke="#68686f" stroke-width="0.7" fill="none" />
<path d="M538,580 A4,4 0 0 0 538,588 A4,4 0 0 0 538,596" stroke="#68686f" stroke-width="0.7" fill="none" />
<path d="M538,628 A4,4 0 0 0 538,636 A4,4 0 0 0 538,644" stroke="#68686f" stroke-width="0.7" fill="none" />
<path d="M538,506 a4,4 0 0 0 0,8 M538,578 a4,4 0 0 0 -4,4" stroke="#68686f" stroke-width="0.7" fill="none" />
<path d="M664,446 A4,4 0 0 1 664,454 A4,4 0 0 1 664,462" stroke="#68686f" stroke-width="0.7" fill="none" />
<path d="M664,550 A4,4 0 0 1 664,558 A4,4 0 0 1 664,566" stroke="#68686f" stroke-width="0.7" fill="none" />
<path d="M664,624 A4,4 0 0 1 664,632 A4,4 0 0 1 664,640" stroke="#68686f" stroke-width="0.7" fill="none" />
<path d="M664,469 H680 V502 H664 M667,472 H677 V499 M664,516 H676 V584 H664 M664,578 H680 V585 H676 V708 H625 V720" stroke="#68686f" stroke-width="0.8" fill="none" />
<rect x="675" y="648" width="5" height="8" stroke="#68686f" stroke-width="0.7" fill="none"/>
<path d="M607,692 V720 M607,693 A5,5 0 0 1 613,698 A5,5 0 0 1 607,703 A5,5 0 0 1 613,708 A5,5 0 0 1 607,712" stroke="#68686f" stroke-width="0.7" fill="none" />
<path d="M580,728 V722 H630 V728 M578,728 H632" stroke="#68686f" stroke-width="0.9" fill="none" />
<path d="M583,728 V757 M585,728 V757 M587,728 V757 M589,728 V757 M591,728 V757 M594,728 V757 M596,728 V757 M598,728 V757 M600,728 V757 M602,728 V757 M604,728 V757 M606,728 V757 M608,728 V757 M610,728 V757 M612,728 V757 M614,728 V757 M617,728 V757 M619,728 V757 M621,728 V757 M623,728 V757 M625,728 V757 " stroke="#68686f" stroke-width="0.5" fill="none" />
<path d="M583,741 H626 V743 H583 Z" stroke="#68686f" stroke-width="0.9" fill="#d6d4e9" />
<path d="M598,757 L610,728" stroke="#d6d4e9" stroke-width="1.8" fill="none" />
<path d="M568,720 V758 H639 M568,720 A12,12 0 0 0 580,730 M630,720 A10,10 0 0 0 640,730" stroke="#68686f" stroke-width="0.7" fill="none" />
<path d="M641,720 V742" stroke="#68686f" stroke-width="1.8" fill="none" />
<path d="M652,748 V721 H670 V719 H678 V721 H694 V740 H700 V748 H652 Z M642,720 V779 H714" stroke="#68686f" stroke-width="0.8" fill="none" />
<path d="M655,750 V778 M657,750 V778 M659,750 V778 M661,750 V778 M663,750 V778 M666,750 V778 M668,750 V778 M670,750 V778 M672,750 V778 M674,750 V778 M676,750 V778 M678,750 V778 M680,750 V778 M682,750 V778 M684,750 V778 M686,750 V778 M689,750 V778 " stroke="#68686f" stroke-width="0.5" fill="none" />
<path d="M655,763 H690 V765 H655 Z" stroke="#68686f" stroke-width="0.9" fill="#d6d4e9" />
<path d="M666,750 L678,778" stroke="#d6d4e9" stroke-width="1.8" fill="none" />
<path d="M693,720 A12,12 0 0 0 705,730 M642,720 A10,10 0 0 1 652,730" stroke="#68686f" stroke-width="0.7" fill="none" />
<path d="M567,720 V760 Q567,766 571,766 H622 V786 H712 Q716,786 716,782 V748 M568,766 V789 M610,766 V789" stroke="#68686f" stroke-width="0.8" fill="none" />
<path d="M532,714 H570 V733 M532,732 H570" stroke="#68686f" stroke-width="0.8" fill="none" />
<path d="M535,732 H568" stroke="#8a8a94" stroke-width="1.6" fill="none" />
<path d="M706,577 V748 Q706,752 710,752 M714,586 V742 H1300 M706,577 H1300 M714,586 H1300" stroke="#68686f" stroke-width="0.8" fill="none" />
<path d="M570,789 H960 V724 H1179 M566,792 H962 V726 M1179,724 V789 H1250 A60,60 0 0 1 1250,910 H455 M1177,726 V792 H1250 A56,56 0 0 1 1250,906 H455" stroke="#68686f" stroke-width="0.8" fill="none" />
<path d="M714,636 H1016 M714,640 H1016 M714,644 H1016 M1123,636 H1268 M1123,640 H1268 M1123,644 H1268" stroke="#68686f" stroke-width="0.7" fill="none" />
<path d="M730,631 V646 M748,631 V646 M766,631 V646 M802,631 V646 M820,631 V646 M838,631 V646 M873,631 V646 M891,631 V646 M909,631 V646 M945,631 V646 M963,631 V646 M980,631 V646 M998,631 V646 M1141,631 V646 M1159,631 V646 M1177,631 V646 M1195,631 V646 M1213,631 V646 M1231,631 V646 M1249,631 V646" stroke="#68686f" stroke-width="0.8" fill="none" />
<path d="M1016,646 V632 H1023 V646 M1023,632 Q1070,620 1117,632 M1117,646 V632 H1123 V646 M1016,646 H1023 M1117,646 H1123" stroke="#68686f" stroke-width="0.8" fill="none" />
<path d="M1023,633 Q1070,622 1117,633" stroke="#68686f" stroke-width="1.8" fill="none" />
<path d="M1266,646 V628 H1300" stroke="#68686f" stroke-width="0.8" fill="none" />
<rect x="923" y="570" width="7" height="24" stroke="#68686f" stroke-width="0.8" fill="none"/>
<rect x="1066" y="570" width="7" height="24" stroke="#68686f" stroke-width="0.8" fill="none"/>
<rect x="1210" y="570" width="7" height="24" stroke="#68686f" stroke-width="0.8" fill="none"/>
<path d="M823,577 V553 H836 a4,4 0 0 1 8,0 H857 V577" stroke="#68686f" stroke-width="0.8" fill="none" />
<path d="M1282,577 V553 H1295 a4,4 0 0 1 8,0 H1316 V577" stroke="#68686f" stroke-width="0.8" fill="none" />
<path d="M714,715 H1318 M714,718 H1318" stroke="#68686f" stroke-width="0.7" fill="none" />
<path d="M744,715 V718 M752,715 V718 M723,715 V718 M773,715 V718 M816,715 V718 M824,715 V718 M794,715 V718 M844,715 V718 M887,715 V718 M895,715 V718 M866,715 V718 M916,715 V718 M958,715 V718 M966,715 V718 M938,715 V718 M988,715 V718 M1030,715 V718 M1038,715 V718 M1009,715 V718 M1059,715 V718 M1102,715 V718 M1110,715 V718 M1080,715 V718 M1130,715 V718 M1173,715 V718 M1181,715 V718 M1152,715 V718 M1202,715 V718 M1244,715 V718 M1252,715 V718 M1224,715 V718 M1274,715 V718 M1316,715 V718 M1324,715 V718 M1295,715 V718 M1345,715 V718" stroke="#68686f" stroke-width="0.8" fill="none" />
<path d="M660,364 H685 M660,367 H685 V373" stroke="#68686f" stroke-width="0.8" fill="none" />
<path d="M685,373 A10,10 0 0 0 694,363 A10,10 0 0 0 704,373" stroke="#68686f" stroke-width="0.8" fill="none" />
<path d="M704,373 V364 H727 V369 H733 V373 H710 M708,373 V508 M710,373 V490" stroke="#68686f" stroke-width="0.8" fill="none" />
<path d="M713,369 a2,2 0 0 1 4,0 M718,369 a2,2 0 0 1 4,0 M712,370 H723" stroke="#68686f" stroke-width="0.6" fill="none" />
<path d="M722,386 H743 M750,386 H770 M722,388 H770" stroke="#68686f" stroke-width="0.8" fill="none" />
<path d="M722,386 Q742,384 744,370 Q744,364 748,364 Q753,364 753,370 Q754,384 770,386" stroke="#68686f" stroke-width="0.8" fill="none" />
<path d="M743,388 V490 H710 M750,388 V500 H783 M783,373 V506 M785,373 V506" stroke="#68686f" stroke-width="0.8" fill="none" />
<path d="M731,422 H743 M750,422 H763" stroke="#68686f" stroke-width="0.9" fill="none" />
<path d="M763,373 V369 H768 V364 H788 Q791,364 791,367 V373 H783" stroke="#68686f" stroke-width="0.8" fill="none" />
<path d="M710,490 V508 H743 V490 M710,495 a6,6 0 0 1 6,-5" stroke="#68686f" stroke-width="0.7" fill="none" />
<path d="M708,508 V537 H770 M743,508 V513 H750 V500 M770,500 V537 H790 V508 M708,508 H743" stroke="#68686f" stroke-width="0.8" fill="none" />
<path d="M759,537 A8,8 0 0 1 767,528 V537 M782,537 A8,8 0 0 1 790,528" stroke="#68686f" stroke-width="0.7" fill="none" />
<path d="M790,372 H1460" stroke="#68686f" stroke-width="0.9" fill="none" />
<path d="M811,372 V366 Q811,364 813,364 H822 Q824,364 824,366 V372" stroke="#68686f" stroke-width="0.8" fill="none" />
<path d="M887,372 V366 Q887,364 889,364 H893 Q895,364 895,366 V372" stroke="#68686f" stroke-width="0.8" fill="none" />
<path d="M958,372 V366 Q958,364 960,364 H965 Q967,364 967,366 V372" stroke="#68686f" stroke-width="0.8" fill="none" />
<path d="M1030,372 V366 Q1030,364 1032,364 H1042 Q1044,364 1044,366 V372" stroke="#68686f" stroke-width="0.8" fill="none" />
<path d="M1102,372 V366 Q1102,364 1104,364 H1107 Q1109,364 1109,366 V372" stroke="#68686f" stroke-width="0.8" fill="none" />
<path d="M1174,372 V366 Q1174,364 1176,364 H1179 Q1181,364 1181,366 V372" stroke="#68686f" stroke-width="0.8" fill="none" />
<path d="M1245,372 V366 Q1245,364 1247,364 H1251 Q1253,364 1253,366 V372" stroke="#68686f" stroke-width="0.8" fill="none" />
<path d="M1316,372 V366 Q1316,364 1318,364 H1323 Q1325,364 1325,366 V372" stroke="#68686f" stroke-width="0.8" fill="none" />
<path d="M1388,372 V366 Q1388,364 1390,364 H1394 Q1396,364 1396,366 V372" stroke="#68686f" stroke-width="0.8" fill="none" />
<path d="M796,372 A8,8 0 0 0 803,365 A8,8 0 0 0 811,372" stroke="#68686f" stroke-width="0.8" fill="none" />
<path d="M899,372 A8,8 0 0 0 907,364 A8,8 0 0 0 915,372" stroke="#68686f" stroke-width="0.8" fill="none" />
<path d="M939,372 A7,7 0 0 0 946,365 A7,7 0 0 0 953,372" stroke="#68686f" stroke-width="0.8" fill="none" />
<path d="M1044,372 A7,7 0 0 0 1051,366 A7,7 0 0 0 1058,372" stroke="#68686f" stroke-width="0.8" fill="none" />
<path d="M1083,372 A7,7 0 0 0 1090,366 A7,7 0 0 0 1097,372" stroke="#68686f" stroke-width="0.8" fill="none" />
<path d="M1186,372 A7,7 0 0 0 1193,365 A7,7 0 0 0 1200,372" stroke="#68686f" stroke-width="0.8" fill="none" />
<path d="M1225,372 A7,7 0 0 0 1232,365 A7,7 0 0 0 1239,372" stroke="#68686f" stroke-width="0.8" fill="none" />
<path d="M1329,372 A8,8 0 0 0 1337,365 A8,8 0 0 0 1344,372" stroke="#68686f" stroke-width="0.8" fill="none" />
<path d="M1367,372 A8,8 0 0 0 1375,364 A8,8 0 0 0 1383,372" stroke="#68686f" stroke-width="0.8" fill="none" />
<path d="M998,373 V506 M1000,373 V506 M1213,373 V506" stroke="#68686f" stroke-width="0.8" fill="none" />
<path d="M1461,372 V506 M1464,363 V470 H1512" stroke="#68686f" stroke-width="0.8" fill="none" />
<path d="M1460,363 H1512 V373" stroke="#68686f" stroke-width="0.8" fill="none" />
<path d="M1512,373 A9,9 0 0 0 1521,364 A9,9 0 0 0 1530,373" stroke="#68686f" stroke-width="0.8" fill="none" />
<rect x="1468" y="371" width="28" height="22" stroke="#68686f" stroke-width="0.9" fill="none"/>
<path d="M1470,373 L1494,392 M1494,373 L1470,392" stroke="#68686f" stroke-width="0.6" fill="none" />
<path d="M1496,372 V393 M1498,374 V392" stroke="#68686f" stroke-width="0.9" fill="none" />
<path d="M1468,397 H1510 V470 M1468,397 V470 M1468,470 H1510" stroke="#68686f" stroke-width="0.8" fill="none" />
<path d="M1468,434 L1485,425 V410 H1503 M1485,445 L1503,426 V470" stroke="#68686f" stroke-width="0.8" fill="none" />
<path d="M1468,411 H1484 M1468,413 H1484 M1468,415 H1484 M1468,417 H1484 M1468,419 H1484 M1468,421 H1484 M1468,423 H1484 M1468,425 H1484 M1468,427 H1484 M1468,429 H1484 M1468,431 H1484 " stroke="#68686f" stroke-width="0.5" fill="none" />
<path d="M1486,430 H1502 M1486,432 H1502 M1486,434 H1502 M1486,436 H1502 M1486,438 H1502 M1486,440 H1502 M1486,442 H1502 M1486,444 H1502 M1486,446 H1502 M1486,448 H1502 M1486,450 H1502 M1486,452 H1502 M1486,454 H1502 M1486,456 H1502 M1486,458 H1502 M1486,460 H1502 M1486,462 H1502 M1486,464 H1502 M1486,466 H1502 M1486,468 H1502 " stroke="#68686f" stroke-width="0.5" fill="none" />
<path d="M1495,403 a6,6 0 0 0 6,6 M1503,460 a5,5 0 0 0 -5,5" stroke="#68686f" stroke-width="0.7" fill="none" />
<path d="M785,506 H796 M811,506 H870 M883,506 H938 M953,506 H1044 M1058,506 H1116 M1129,506 H1186 M1200,506 H1225 M1239,506 H1298 M1311,506 H1368 M1383,506 H1467" stroke="#68686f" stroke-width="0.8" fill="none" />
<path d="M792,514 H796 M811,514 H870 M883,514 H938 M953,514 H1044 M1058,514 H1116 M1129,514 H1186 M1200,514 H1225 M1239,514 H1298 M1311,514 H1368 M1383,514 H1475 V506 H1464" stroke="#68686f" stroke-width="0.8" fill="none" />
<path d="M796,506 V514 A8,8 0 0 0 803,506 A8,8 0 0 0 811,514 V506" stroke="#68686f" stroke-width="0.7" fill="none" />
<path d="M870,506 V514 A6,6 0 0 0 876,507 A6,6 0 0 0 883,514 V506" stroke="#68686f" stroke-width="0.7" fill="none" />
<path d="M938,506 V514 A8,8 0 0 0 946,506 A8,8 0 0 0 953,514 V506" stroke="#68686f" stroke-width="0.7" fill="none" />
<path d="M1044,506 V514 A7,7 0 0 0 1051,507 A7,7 0 0 0 1058,514 V506" stroke="#68686f" stroke-width="0.7" fill="none" />
<path d="M1116,506 V514 A7,7 0 0 0 1122,507 A7,7 0 0 0 1129,514 V506" stroke="#68686f" stroke-width="0.7" fill="none" />
<path d="M1186,506 V514 A7,7 0 0 0 1193,507 A7,7 0 0 0 1200,514 V506" stroke="#68686f" stroke-width="0.7" fill="none" />
<path d="M1225,506 V514 A7,7 0 0 0 1232,507 A7,7 0 0 0 1239,514 V506" stroke="#68686f" stroke-width="0.7" fill="none" />
<path d="M1298,506 V514 A7,7 0 0 0 1304,507 A7,7 0 0 0 1311,514 V506" stroke="#68686f" stroke-width="0.7" fill="none" />
<path d="M1368,506 V514 A8,8 0 0 0 1376,506 A8,8 0 0 0 1383,514 V506" stroke="#68686f" stroke-width="0.7" fill="none" />
<path d="M834,514 V522 H861 V514 M836,514 V520 H859 V514" stroke="#68686f" stroke-width="0.7" fill="none" />
<path d="M905,514 V520 H933 V514 M907,514 V518 H931 V514" stroke="#68686f" stroke-width="0.7" fill="none" />
<path d="M979,514 V526 H1017 V514 M981,514 V524 H1015 V514" stroke="#68686f" stroke-width="0.7" fill="none" />
<path d="M1064,514 V520 H1091 V514 M1066,514 V518 H1089 V514" stroke="#68686f" stroke-width="0.7" fill="none" />
<path d="M1134,514 V520 H1163 V514 M1136,514 V518 H1161 V514" stroke="#68686f" stroke-width="0.7" fill="none" />
<path d="M1262,514 V520 H1292 V514 M1264,514 V518 H1290 V514" stroke="#68686f" stroke-width="0.7" fill="none" />
<path d="M1307,514 V526 H1334 V514 M1309,514 V524 H1332 V514" stroke="#68686f" stroke-width="0.7" fill="none" />
<path d="M1334,514 V518 H1362 V514 M1336,514 V516 H1360 V514" stroke="#68686f" stroke-width="0.7" fill="none" />
<path d="M1300,577 C1380,577 1490,536 1530,492 C1590,426 1667,367 1727,329" stroke="#68686f" stroke-width="0.8" fill="none" />
<path d="M1300,586 C1390,586 1500,532 1545,485 C1605,422 1680,386 1740,355" stroke="#68686f" stroke-width="0.8" fill="none" />
<path d="M1326,653 C1440,648 1515,557 1560,514 C1605,471 1680,400 1740,369" stroke="#68686f" stroke-width="1.0" fill="none" />
<path d="M1326,656 C1441,651 1517,559 1562,516 C1607,473 1682,402 1740,372" stroke="#68686f" stroke-width="1.4" fill="none" />
<path d="M1318,716 C1460,718 1560,614 1600,568 C1640,522 1690,480 1740,443" stroke="#68686f" stroke-width="1.2" fill="none" />
<path d="M1318,720 C1461,721 1562,616 1602,570 C1642,524 1692,482 1742,445" stroke="#68686f" stroke-width="0.7" fill="none" />
<path d="M1300,742 C1430,735 1545,665 1600,608 C1640,566 1690,522 1740,484" stroke="#68686f" stroke-width="0.8" fill="none" />
<path d="M1300,628 Q1350,624 1391,618 L1393,640 M1326,628 V715" stroke="#68686f" stroke-width="0.8" fill="none" />
<path d="M1370,633 L1382,631 M1378,627 L1388,630 L1380,635 Z" stroke="#68686f" stroke-width="0.7" fill="none" />
<path d="M1545,578 Q1510,615 1470,645 M1470,645 L1476,634 L1482,641 Z" stroke="#68686f" stroke-width="0.8" fill="none" />
<path d="M1661,388 L1740,336 M1673,406 L1752,354 M1661,388 L1673,406" stroke="#68686f" stroke-width="0.8" fill="none" />
<path d="M1670,387 L1742,339" stroke="#8a8a9a" stroke-width="2.2" fill="none" />
<path d="M1674,393 L1746,345" stroke="#8a8a9a" stroke-width="2.6" fill="none" />
<path d="M1678,399 L1750,350" stroke="#8a8a9a" stroke-width="2.2" fill="none" />
<path d="M1672,386 L1675,391 M1676,392 L1679,398 M1674,384 L1677,389 M1678,391 L1681,396 M1676,383 L1679,388 M1680,390 L1684,395 M1678,382 L1681,386 M1682,388 L1686,393 M1680,380 L1684,385 M1685,387 L1688,392 M1682,379 L1686,384 M1687,385 L1690,390 M1685,377 L1688,382 M1689,384 L1692,389 M1687,376 L1690,381 M1691,382 L1694,387 M1689,374 L1692,379 M1693,381 L1697,386 M1691,373 L1694,378 M1696,380 L1699,385 M1693,372 L1696,376 M1698,378 L1701,383 M1695,370 L1699,375 M1700,377 L1703,382 M1698,369 L1701,374 M1702,375 L1705,380 M1700,367 L1703,372 M1704,374 L1708,379 M1702,366 L1705,371 M1706,372 L1710,377 M1704,364 L1707,369 M1708,371 L1712,376 M1706,363 L1710,368 M1711,370 L1714,374 M1708,361 L1712,366 M1713,368 L1716,373 M1711,360 L1714,365 M1715,367 L1718,372 M1713,358 L1716,364 M1717,365 L1720,370 M1715,357 L1718,362 M1719,364 L1723,369 M1717,356 L1720,361 M1722,362 L1725,367 M1719,354 L1722,359 M1724,361 L1727,366 M1721,353 L1725,358 M1726,360 L1729,364 M1724,351 L1727,356 M1728,358 L1731,363 M1726,350 L1729,355 M1730,357 L1734,362 M1728,348 L1731,354 M1732,355 L1736,360 M1730,347 L1733,352 M1734,354 L1738,359 M1732,346 L1736,351 M1737,352 L1740,357 M1734,344 L1738,349 M1739,351 L1742,356 M1737,343 L1740,348 M1741,349 L1744,354 M1739,341 L1742,346 M1743,348 L1746,353 M1741,340 L1744,345 M1745,346 L1749,352 " stroke="#68686f" stroke-width="0.5" fill="none" />
<path d="M1676,364 V331 Q1676,327 1680,327 H1703 V335 a2,2 0 0 0 5,0 V327 H1736 L1740,331" stroke="#68686f" stroke-width="0.8" fill="none" />
<path d="M1680,337 V362 M1680,337 H1703 M1708,337 H1720 L1676,362" stroke="#68686f" stroke-width="0.7" fill="none" />
<path d="M1511,372 H1531 M1531,363 H1538 V373 H1531 Z M1538,365 H1603 M1538,368 H1603 M1603,363 H1611 V373 H1603 Z" stroke="#68686f" stroke-width="0.8" fill="none" />
<path d="M1611,364 A4,4 0 0 0 1615,361 A4,4 0 0 0 1619,364" stroke="#68686f" stroke-width="0.8" fill="none" />
<path d="M1619,364 H1673 M1619,364 V371" stroke="#68686f" stroke-width="0.8" fill="none" />
<path d="M1535,373 V435 M1531,435 H1539 V441 H1531 Z M1539,441 L1557,460 M1550,452 a6,6 0 0 1 8,-6" stroke="#68686f" stroke-width="0.8" fill="none" />
<path d="M1606,373 V418 M1537,392 H1605 M1542,392 a6,6 0 0 0 8,6 M1591,392 a6,6 0 0 1 8,6" stroke="#68686f" stroke-width="0.7" fill="none" />
<path d="M1603,400 H1611 V407 H1603 Z M1611,405 H1621" stroke="#68686f" stroke-width="0.7" fill="none" />
<path d="M1464,470 V506" stroke="#68686f" stroke-width="0.7" fill="none" />
</g>
<g transform="translate(0.5,0.5)">
<path d="M699,229 V236 L712,240" stroke="#74747f" stroke-width="0.8" fill="none" stroke-dasharray="3 3"/>
<path d="M999,229 V240" stroke="#74747f" stroke-width="0.8" fill="none" stroke-dasharray="3 3"/>
<path d="M1002,213 Q1069,186 1137,213" stroke="#74747f" stroke-width="0.8" fill="none" stroke-dasharray="4 1.6 0.6 1.3"/>
<path d="M250,221 Q330,200 440,199 Q540,199 604,225" stroke="#74747f" stroke-width="0.8" fill="none" stroke-dasharray="4 1.6 0.6 1.3"/>
<path d="M1431,214 Q1500,186 1567,214" stroke="#74747f" stroke-width="0.8" fill="none" stroke-dasharray="4 1.6 0.6 1.3"/>
<path d="M1141,229 V245" stroke="#74747f" stroke-width="0.8" fill="none" stroke-dasharray="3 3"/>
<path d="M1428,229 V238 L1400,244" stroke="#74747f" stroke-width="0.8" fill="none" stroke-dasharray="3 3"/>
<path d="M1622,229 V250" stroke="#74747f" stroke-width="0.8" fill="none" stroke-dasharray="3 3"/>
<path d="M0,324 H1623 V229" stroke="#74747f" stroke-width="0.9" fill="none" stroke-dasharray="4 1.6 0.6 1.3"/>
<path d="M140,229 V238 Q80,250 26,254 V320 H59" stroke="#74747f" stroke-width="0.8" fill="none" stroke-dasharray="4 1.6 0.6 1.3"/>
<path d="M39,298 H61" stroke="#74747f" stroke-width="0.8" fill="none" stroke-dasharray="4 1.6 0.6 1.3"/>
<path d="M182,324 V317 H240 V324" stroke="#74747f" stroke-width="0.8" fill="none" stroke-dasharray="4 1.6 0.6 1.3"/>
<path d="M254,324 V317 H312 V324" stroke="#74747f" stroke-width="0.8" fill="none" stroke-dasharray="4 1.6 0.6 1.3"/>
<path d="M540,324 V317 H598 V324" stroke="#74747f" stroke-width="0.8" fill="none" stroke-dasharray="4 1.6 0.6 1.3"/>
<path d="M612,324 V317 H670 V324" stroke="#74747f" stroke-width="0.8" fill="none" stroke-dasharray="4 1.6 0.6 1.3"/>
<path d="M699,229 V238 Q770,250 825,251 V298 H798" stroke="#74747f" stroke-width="0.8" fill="none" stroke-dasharray="4 1.6 0.6 1.3"/>
<path d="M798,321 H825 V324" stroke="#74747f" stroke-width="0.8" fill="none" stroke-dasharray="4 1.6 0.6 1.3"/>
<path d="M999,229 V240 L886,251 V324" stroke="#74747f" stroke-width="0.8" fill="none" stroke-dasharray="4 1.6 0.6 1.3"/>
<path d="M926,324 V306 Q1000,292 1069,295 Q1140,292 1214,306 V324" stroke="#74747f" stroke-width="0.8" fill="none" stroke-dasharray="4 1.6 0.6 1.3"/>
<path d="M1141,229 V240 L1254,251 V324" stroke="#74747f" stroke-width="0.8" fill="none" stroke-dasharray="4 1.6 0.6 1.3"/>
<path d="M1314,324 V321 H1353 M1353,298 H1314 V251 Q1380,246 1428,238 V229" stroke="#74747f" stroke-width="0.8" fill="none" stroke-dasharray="4 1.6 0.6 1.3"/>
<path d="M1678,229 V327" stroke="#74747f" stroke-width="0.8" fill="none" stroke-dasharray="4 1.6 0.6 1.3"/>
<path d="M191,545 H312 M191,546 H312" stroke="#8a8a94" stroke-width="0.9" fill="none" stroke-dasharray="5 3"/>
<path d="M191,617 H312" stroke="#8a8a94" stroke-width="1.8" fill="none" stroke-dasharray="5 3"/>
<path d="M361,445 V372 H490 V445" stroke="#74747f" stroke-width="0.8" fill="none" stroke-dasharray="4 1.6 0.6 1.3"/>
<path d="M389,953 V913 H463 V953" stroke="#74747f" stroke-width="0.8" fill="none" stroke-dasharray="5 3"/>
<path d="M541,545 H661" stroke="#8a8a94" stroke-width="1.6" fill="none" stroke-dasharray="5 3"/>
<path d="M541,617 H661" stroke="#8a8a94" stroke-width="1.6" fill="none" stroke-dasharray="5 3"/>
<path d="M855,373 V505" stroke="#74747f" stroke-width="0.9" fill="none" stroke-dasharray="4 1.6 0.6 1.3"/>
<path d="M927,373 V505" stroke="#74747f" stroke-width="0.9" fill="none" stroke-dasharray="4 1.6 0.6 1.3"/>
<path d="M1070,373 V505" stroke="#74747f" stroke-width="0.9" fill="none" stroke-dasharray="4 1.6 0.6 1.3"/>
<path d="M1141,373 V505" stroke="#74747f" stroke-width="0.9" fill="none" stroke-dasharray="4 1.6 0.6 1.3"/>
<path d="M1284,373 V505" stroke="#74747f" stroke-width="0.9" fill="none" stroke-dasharray="4 1.6 0.6 1.3"/>
<path d="M1356,373 V505" stroke="#74747f" stroke-width="0.9" fill="none" stroke-dasharray="4 1.6 0.6 1.3"/>
</g>
<g>
<path d="M426,0 V165" stroke="#000" stroke-opacity="0.34" stroke-width="2" fill="none" stroke-dasharray="7.2 4" stroke-dashoffset="1.6"/>
<path d="M855,0 V165" stroke="#000" stroke-opacity="0.34" stroke-width="2" fill="none" stroke-dasharray="7.2 4" stroke-dashoffset="1.6"/>
<path d="M1070,0 V171" stroke="#000" stroke-opacity="0.34" stroke-width="2" fill="none" stroke-dasharray="7.2 4" stroke-dashoffset="1.6"/>
<path d="M1285,0 V165" stroke="#000" stroke-opacity="0.34" stroke-width="2" fill="none" stroke-dasharray="7.2 4" stroke-dashoffset="1.6"/>
</g>
<g fill="#000">
<circle cx="67" cy="175.8" r="3.9"/>
<circle cx="139" cy="175.8" r="3.9"/>
<circle cx="282.8" cy="175.8" r="3.9"/>
<circle cx="318.4" cy="175.8" r="3.9"/>
<circle cx="354.3" cy="175.8" r="3.9"/>
<circle cx="497" cy="175.8" r="3.9"/>
<circle cx="533" cy="175.8" r="3.9"/>
<circle cx="569" cy="175.8" r="3.9"/>
<circle cx="711" cy="175.8" r="3.9"/>
<circle cx="783" cy="175.8" r="3.9"/>
<circle cx="926" cy="175.8" r="3.9"/>
<circle cx="998" cy="175.8" r="3.9"/>
<circle cx="1034" cy="175.8" r="3.9"/>
<circle cx="1105" cy="175.8" r="3.9"/>
<circle cx="1141" cy="175.8" r="3.9"/>
<circle cx="1213" cy="175.8" r="3.9"/>
<circle cx="1356" cy="175.8" r="3.9"/>
<circle cx="1427" cy="175.8" r="3.9"/>
<circle cx="1463" cy="175.8" r="3.9"/>
<circle cx="1535" cy="175.8" r="3.9"/>
<circle cx="318.4" cy="225.4" r="3.9"/>
<circle cx="354.3" cy="225.4" r="3.9"/>
<circle cx="497" cy="225.4" r="3.9"/>
<circle cx="533" cy="225.4" r="3.9"/>
<circle cx="1034" cy="225.4" r="3.9"/>
<circle cx="1105" cy="225.4" r="3.9"/>
<circle cx="1463" cy="225.4" r="3.9"/>
<circle cx="1535" cy="225.4" r="3.9"/>
<circle cx="33" cy="330.8" r="3.9"/>
<circle cx="104" cy="330.8" r="3.9"/>
<circle cx="175" cy="330.8" r="3.9"/>
<circle cx="247" cy="330.8" r="3.9"/>
<circle cx="318.4" cy="330.8" r="3.9"/>
<circle cx="354.3" cy="330.8" r="3.9"/>
<circle cx="497" cy="330.8" r="3.9"/>
<circle cx="533" cy="330.8" r="3.9"/>
<circle cx="604" cy="330.8" r="3.9"/>
<circle cx="676" cy="330.8" r="3.9"/>
<circle cx="747" cy="330.8" r="3.9"/>
<circle cx="819" cy="330.8" r="3.9"/>
<circle cx="890" cy="330.8" r="3.9"/>
<circle cx="962" cy="330.8" r="3.9"/>
<circle cx="1034" cy="330.8" r="3.9"/>
<circle cx="1105" cy="330.8" r="3.9"/>
<circle cx="1177" cy="330.8" r="3.9"/>
<circle cx="1248" cy="330.8" r="3.9"/>
<circle cx="1320" cy="330.8" r="3.9"/>
<circle cx="1391" cy="330.8" r="3.9"/>
<circle cx="1463" cy="330.8" r="3.9"/>
<circle cx="1535" cy="330.8" r="3.9"/>
<circle cx="1606" cy="330.8" r="3.9"/>
<circle cx="354.3" cy="366" r="3.9"/>
<circle cx="497" cy="366" r="3.9"/>
<circle cx="354.3" cy="437" r="3.9"/>
<circle cx="497" cy="437" r="3.9"/>
<circle cx="354.3" cy="509" r="3.9"/>
<circle cx="497" cy="509" r="3.9"/>
<circle cx="354.3" cy="580" r="3.9"/>
<circle cx="497" cy="580" r="3.9"/>
<circle cx="354.3" cy="652" r="3.9"/>
<circle cx="497" cy="652" r="3.9"/>
<circle cx="33" cy="652.7" r="3.9"/>
<circle cx="104" cy="652.7" r="3.9"/>
<circle cx="748" cy="652.7" r="3.9"/>
<circle cx="819" cy="652.7" r="3.9"/>
<circle cx="890" cy="652.7" r="3.9"/>
<circle cx="962" cy="652.7" r="3.9"/>
<circle cx="1034" cy="652.7" r="3.9"/>
<circle cx="1105" cy="652.7" r="3.9"/>
<circle cx="1177" cy="652.7" r="3.9"/>
<circle cx="1248" cy="652.7" r="3.9"/>
<circle cx="1320" cy="652.7" r="3.9"/>
<circle cx="33" cy="724" r="3.9"/>
<circle cx="104" cy="724" r="3.9"/>
<circle cx="318.4" cy="724" r="3.9"/>
<circle cx="354.3" cy="724" r="3.9"/>
<circle cx="497" cy="724" r="3.9"/>
<circle cx="533" cy="724" r="3.9"/>
<circle cx="748" cy="724" r="3.9"/>
<circle cx="819" cy="724" r="3.9"/>
<circle cx="890" cy="724" r="3.9"/>
<circle cx="962" cy="724" r="3.9"/>
<circle cx="1034" cy="724" r="3.9"/>
<circle cx="1105" cy="724" r="3.9"/>
<circle cx="1177" cy="724" r="3.9"/>
<circle cx="1248" cy="724" r="3.9"/>
<circle cx="1320" cy="724" r="3.9"/>
<circle cx="369" cy="766" r="3.9"/>
<circle cx="404" cy="792" r="3.9"/>
<circle cx="448" cy="792" r="3.9"/>
<circle cx="484" cy="766" r="3.9"/>
<circle cx="339" cy="786" r="3.9"/>
<circle cx="392" cy="826" r="3.9"/>
<circle cx="458" cy="826" r="3.9"/>
<circle cx="513" cy="786" r="3.9"/>
<circle cx="1731" cy="374" r="3.9"/>
<circle cx="1704" cy="480" r="3.9"/>
<circle cx="1645" cy="531" r="3.9"/>
<circle cx="1592" cy="589" r="3.9"/>
<circle cx="1537" cy="645" r="3.9"/>
<circle cx="1471.6" cy="688.5" r="3.9"/>
<circle cx="1398" cy="715.2" r="3.9"/>
<rect x="1532.5" y="464.5" width="5" height="5"/>
<rect x="1460.5" y="530.5" width="5" height="5"/>
<rect x="1388.5" y="559.5" width="5" height="5"/>
<rect x="172.5" y="649.5" width="5" height="5"/>
<rect x="101.2" y="435.5" width="5" height="5"/>
<rect x="279.4" y="183.2" width="4.4" height="12"/>
<rect x="315.8" y="183.2" width="4.3" height="12"/>
<rect x="352" y="183.2" width="4.5" height="12"/>
<rect x="495" y="183.2" width="4.6" height="12"/>
<rect x="530.8" y="183.2" width="4.3" height="12"/>
<rect x="383.3" y="183" width="4.3" height="6"/>
<rect x="464" y="183" width="4.5" height="6"/>
<rect x="565.8" y="183" width="4.3" height="6"/>
<rect x="256" y="183" width="4" height="2"/>
<rect x="1030.5" y="183" width="7.6" height="13.7"/>
<rect x="1101.7" y="183" width="7.6" height="13.7"/>
<rect x="1459.6" y="183" width="7.6" height="13.7"/>
<rect x="1531.3" y="183" width="7.6" height="13.7"/>
<circle cx="24" cy="278.5" r="3" fill="#a9b0a9"/>
<rect x="697" y="320" width="5" height="1.5"/>
<rect x="396" y="845" width="2.5" height="2.5"/>
<rect x="453" y="845" width="2.5" height="2.5"/>
<rect x="396" y="862" width="2.5" height="2.5"/>
<rect x="453" y="862" width="2.5" height="2.5"/>
<rect x="396" y="880" width="2.5" height="2.5"/>
<rect x="453" y="880" width="2.5" height="2.5"/>
<rect x="396" y="897" width="2.5" height="2.5"/>
<rect x="453" y="897" width="2.5" height="2.5"/>
<rect x="409" y="871" width="3" height="1.5"/>
<rect x="440" y="871" width="3" height="1.5"/>
<rect x="409" y="912" width="3" height="1.5"/>
<rect x="440" y="912" width="3" height="1.5"/>
</g>
<g font-family="'Liberation Sans', sans-serif">
<text x="213.75" y="54" font-size="39.3" text-anchor="middle" fill="#000" font-weight="normal" textLength="30.4" lengthAdjust="spacingAndGlyphs" >W</text>
<text x="213.75" y="98.6" font-size="39.3" text-anchor="middle" fill="#000" font-weight="normal" textLength="43.5" lengthAdjust="spacingAndGlyphs" >A4</text>
<text x="645" y="54" font-size="39.3" text-anchor="middle" fill="#000" font-weight="normal" textLength="30.4" lengthAdjust="spacingAndGlyphs" >W</text>
<text x="645" y="98.6" font-size="39.3" text-anchor="middle" fill="#000" font-weight="normal" textLength="41.4" lengthAdjust="spacingAndGlyphs" >B1</text>
<text x="966" y="54" font-size="39.3" text-anchor="middle" fill="#000" font-weight="normal" textLength="30.4" lengthAdjust="spacingAndGlyphs" >W</text>
<text x="966" y="98.6" font-size="39.3" text-anchor="middle" fill="#000" font-weight="normal" textLength="41.4" lengthAdjust="spacingAndGlyphs" >B2</text>
<text x="1183" y="54" font-size="39.3" text-anchor="middle" fill="#000" font-weight="normal" textLength="30.4" lengthAdjust="spacingAndGlyphs" >W</text>
<text x="1183" y="98.6" font-size="39.3" text-anchor="middle" fill="#000" font-weight="normal" textLength="41.2" lengthAdjust="spacingAndGlyphs" >B3</text>
<text x="1502" y="54" font-size="39.3" text-anchor="middle" fill="#000" font-weight="normal" textLength="30.4" lengthAdjust="spacingAndGlyphs" >W</text>
<text x="1502" y="98.6" font-size="39.3" text-anchor="middle" fill="#000" font-weight="normal" textLength="44.9" lengthAdjust="spacingAndGlyphs" >B4</text>
<text x="34" y="445" font-size="17.6" text-anchor="middle" fill="#111" font-weight="normal" textLength="53.5" lengthAdjust="spacingAndGlyphs" >W204C</text>
<text x="249.6" y="504" font-size="17.6" text-anchor="middle" fill="#111" font-weight="normal" textLength="53.5" lengthAdjust="spacingAndGlyphs" >W205A</text>
<text x="249.6" y="588" font-size="17.6" text-anchor="middle" fill="#111" font-weight="normal" textLength="53.5" lengthAdjust="spacingAndGlyphs" >W205B</text>
<text x="249.6" y="664" font-size="17.6" text-anchor="middle" fill="#111" font-weight="normal" textLength="53.5" lengthAdjust="spacingAndGlyphs" >W205C</text>
<text x="602.5" y="504" font-size="17.6" text-anchor="middle" fill="#111" font-weight="normal" textLength="53.5" lengthAdjust="spacingAndGlyphs" >W206A</text>
<text x="602.5" y="588" font-size="17.6" text-anchor="middle" fill="#111" font-weight="normal" textLength="53.5" lengthAdjust="spacingAndGlyphs" >W206B</text>
<text x="602.5" y="664" font-size="17.6" text-anchor="middle" fill="#111" font-weight="normal" textLength="53.5" lengthAdjust="spacingAndGlyphs" >W206C</text>
<text x="819.5" y="444.7" font-size="17.6" text-anchor="middle" fill="#111" font-weight="normal" textLength="53.5" lengthAdjust="spacingAndGlyphs" >W207A</text>
<text x="889" y="444.7" font-size="17.6" text-anchor="middle" fill="#111" font-weight="normal" textLength="53.5" lengthAdjust="spacingAndGlyphs" >W207B</text>
<text x="963" y="444.7" font-size="17.6" text-anchor="middle" fill="#111" font-weight="normal" textLength="53.5" lengthAdjust="spacingAndGlyphs" >W207C</text>
<text x="1034.5" y="444.7" font-size="17.6" text-anchor="middle" fill="#111" font-weight="normal" textLength="53.5" lengthAdjust="spacingAndGlyphs" >W208A</text>
<text x="1106" y="444.7" font-size="17.6" text-anchor="middle" fill="#111" font-weight="normal" textLength="53.5" lengthAdjust="spacingAndGlyphs" >W208B</text>
<text x="1178" y="444.7" font-size="17.6" text-anchor="middle" fill="#111" font-weight="normal" textLength="53.5" lengthAdjust="spacingAndGlyphs" >W208C</text>
<text x="1248.5" y="444.7" font-size="17.6" text-anchor="middle" fill="#111" font-weight="normal" textLength="53.5" lengthAdjust="spacingAndGlyphs" >W209A</text>
<text x="1321.4" y="444.7" font-size="17.6" text-anchor="middle" fill="#111" font-weight="normal" textLength="53.5" lengthAdjust="spacingAndGlyphs" >W209B</text>
<text x="1405" y="444.7" font-size="17.6" text-anchor="middle" fill="#111" font-weight="normal" textLength="53.5" lengthAdjust="spacingAndGlyphs" >W209C</text>
<text x="422.2" y="614.5" font-size="13.8" text-anchor="middle" fill="#222" font-weight="normal" textLength="51.5" lengthAdjust="spacingAndGlyphs" >OPEN TO</text>
<text x="422.6" y="634.5" font-size="13.8" text-anchor="middle" fill="#222" font-weight="normal" textLength="41" lengthAdjust="spacingAndGlyphs" >BELOW</text>
<text x="24.5" y="303" font-size="10.2" text-anchor="middle" fill="#555" font-weight="bold" textLength="27.5" lengthAdjust="spacingAndGlyphs" >L2-23</text>
<text x="423.5" y="879" font-size="7.3" text-anchor="middle" fill="#333" font-weight="normal" textLength="38" lengthAdjust="spacingAndGlyphs" >CONNECTING</text>
<text x="424" y="887" font-size="7.3" text-anchor="middle" fill="#333" font-weight="normal" textLength="37" lengthAdjust="spacingAndGlyphs" >CATWALK TO</text>
<text x="423.5" y="895" font-size="7.3" text-anchor="middle" fill="#333" font-weight="normal" textLength="45" lengthAdjust="spacingAndGlyphs" >NORTH-SOUTH</text>
<text x="423.5" y="903" font-size="7.3" text-anchor="middle" fill="#333" font-weight="normal" textLength="39" lengthAdjust="spacingAndGlyphs" >CONCOURSE</text>
<text x="1347" y="643" font-size="12.5" text-anchor="middle" fill="#222" font-weight="normal" textLength="37" lengthAdjust="spacingAndGlyphs" transform="rotate(-8 1347 638)">DOWN</text>
<text x="1576" y="549" font-size="13.5" text-anchor="middle" fill="#222" font-weight="normal" textLength="72" lengthAdjust="spacingAndGlyphs" transform="rotate(-46 1576 545)">RAMP DOWN</text>
</g>
</svg>
</body></html>
